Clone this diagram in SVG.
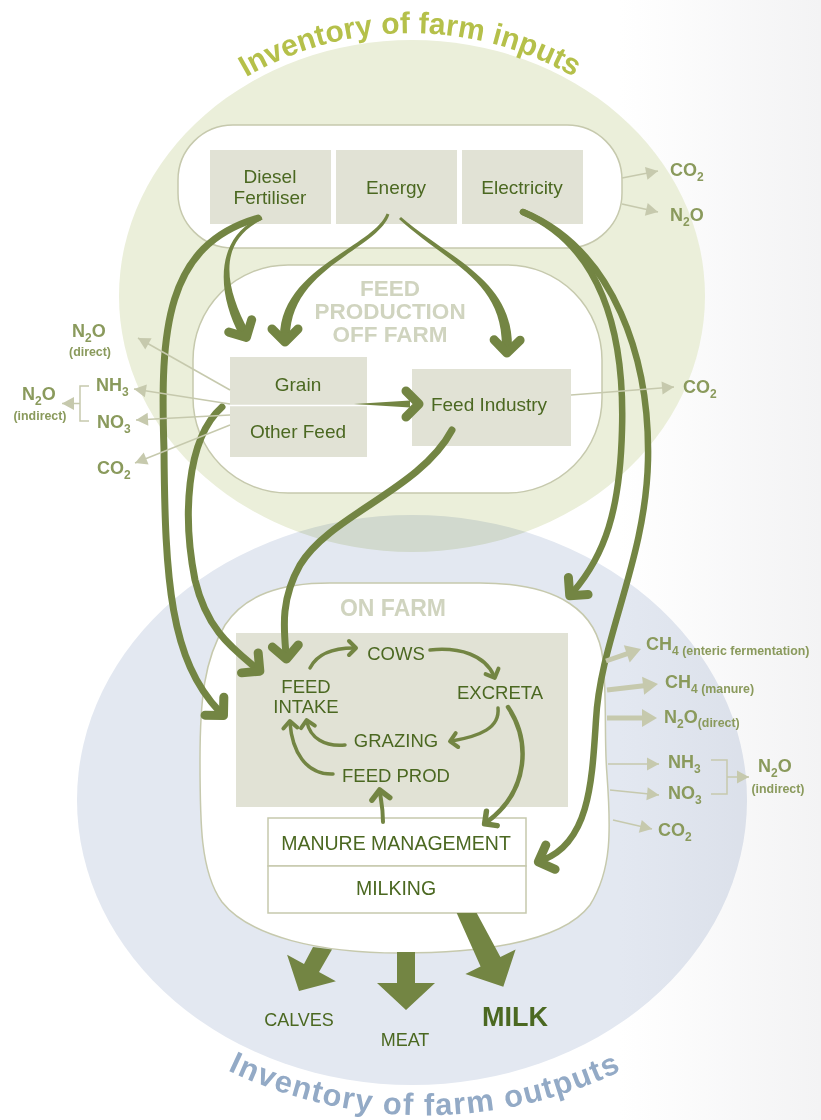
<svg xmlns="http://www.w3.org/2000/svg" width="821" height="1120" viewBox="0 0 821 1120">
<style>
text{font-family:"Liberation Sans",Arial,sans-serif}
.lbl{fill:#4b6821;font-size:19px;text-anchor:middle}
.lbl2{fill:#4b6821;font-size:18.5px;text-anchor:middle}
.em{fill:#8a9a5c;font-size:18px;font-weight:bold}
.sub{font-size:12px}
.ems{font-size:12.4px}
.ttl{fill:#d0d4bf;font-size:22.5px;font-weight:bold;text-anchor:middle}
.box{fill:#e1e2d5}
.blob{fill:#fff;stroke:#c6c9ad;stroke-width:1.5}
.big{fill:none;stroke:#738543;stroke-width:7;stroke-linecap:round;marker-end:url(#hL)}
.tapc{fill:none;stroke:none;marker-end:url(#hL)}
.tap{fill:#738543}
.sm{fill:none;stroke:#738543;stroke-width:3.5;stroke-linecap:round;marker-end:url(#hS)}
.gl{fill:none;stroke:#c6c9ad;stroke-width:1.5;marker-end:url(#tS)}
.gt{fill:none;stroke:#c6c9ad;stroke-width:5;marker-end:url(#tL)}
.out{fill:#738543}
</style>
<defs>
<linearGradient id="bgR" x1="0" x2="1" y1="0" y2="0"><stop offset="0" stop-color="#ffffff"/><stop offset="1" stop-color="#f3f3f4"/></linearGradient>
<marker id="hL" markerUnits="userSpaceOnUse" viewBox="-25 -25 50 50" markerWidth="50" markerHeight="50" refX="-5" refY="0" orient="auto" overflow="visible"><path d="M -13 -13 L 0 0 L -13 13" fill="none" stroke="#738543" stroke-width="9" stroke-linecap="round" stroke-linejoin="round"/></marker>
<marker id="hS" markerUnits="userSpaceOnUse" viewBox="-15 -15 30 30" markerWidth="30" markerHeight="30" refX="-2" refY="0" orient="auto" overflow="visible"><path d="M -7 -7 L 0 0 L -7 7" fill="none" stroke="#738543" stroke-width="4" stroke-linecap="round" stroke-linejoin="round"/></marker>
<marker id="hM" markerUnits="userSpaceOnUse" viewBox="-15 -15 30 30" markerWidth="30" markerHeight="30" refX="-3" refY="0" orient="auto" overflow="visible"><path d="M -9 -9 L 0 0 L -9 9" fill="none" stroke="#738543" stroke-width="5.5" stroke-linecap="round" stroke-linejoin="round"/></marker>
<marker id="tS" markerUnits="userSpaceOnUse" viewBox="-15 -10 20 20" markerWidth="20" markerHeight="20" refX="0" refY="0" orient="auto" overflow="visible"><path d="M -12 -6.5 L 0 0 L -12 6.5 Z" fill="#c6c9ad"/></marker>
<marker id="tL" markerUnits="userSpaceOnUse" viewBox="-20 -12 24 24" markerWidth="24" markerHeight="24" refX="-12" refY="0" orient="auto" overflow="visible"><path d="M -15 -9 L 0 0 L -15 9 Z" fill="#c6c9ad"/></marker>
<path id="arcTop" d="M 230 87 A 328 328 0 0 1 590 87"/>
<path id="arcBot" d="M 190 1050 A 455 455 0 0 0 660 1050"/>
</defs>

<g id="background">
<rect x="0" y="0" width="821" height="1120" fill="#ffffff"/>
<rect x="620" y="0" width="201" height="1120" fill="url(#bgR)"/>
<ellipse id="inputs-area" cx="412" cy="296" rx="293" ry="256" fill="#ebefda"/>
<ellipse id="outputs-area" cx="412" cy="800" rx="335" ry="285" fill="#e3e8f1" style="mix-blend-mode:multiply"/>
<text style="font-size:30px;font-weight:bold;fill:#b5c04a;text-anchor:middle"><textPath href="#arcTop" startOffset="50%">Inventory of farm inputs</textPath></text>
<text style="font-size:31px;font-weight:bold;fill:#93aac6;text-anchor:middle;letter-spacing:1.3px"><textPath href="#arcBot" startOffset="50%">Inventory of farm outputs</textPath></text>
</g>

<g id="inputs-group">
<rect x="178" y="125" width="444" height="123" rx="55" ry="55" class="blob"/>
</g>
<g id="diesel-fertiliser">
<rect x="210" y="150" width="121" height="74" class="box"/>
<text class="lbl" x="270" y="183">Diesel</text>
<text class="lbl" x="270" y="204">Fertiliser</text>
</g>
<g id="energy">
<rect x="336" y="150" width="121" height="74" class="box"/>
<text class="lbl" x="396" y="194">Energy</text>
</g>
<g id="electricity">
<rect x="462" y="150" width="121" height="74" class="box"/>
<text class="lbl" x="522" y="194">Electricity</text>
</g>

<g id="feed-production-off-farm">
<rect x="193" y="265" width="409" height="228" rx="95" ry="95" class="blob"/>
<text class="ttl" x="390" y="296">FEED</text>
<text class="ttl" x="390" y="319">PRODUCTION</text>
<text class="ttl" x="390" y="342">OFF FARM</text>
</g>
<g id="grain-other-feed">
<rect x="230" y="357" width="137" height="100" class="box"/>
<line x1="230" y1="405.5" x2="367" y2="405.5" stroke="#ffffff" stroke-width="1.5"/>
<text class="lbl" x="298" y="391">Grain</text>
<text class="lbl" x="298" y="438">Other Feed</text>
</g>
<g id="feed-industry">
<rect x="412" y="369" width="159" height="77" class="box"/>
<text class="lbl" x="489" y="411">Feed Industry</text>
</g>

<g id="on-farm">
<path class="blob" d="M 330 583 L 480 583 C 560 583 598 612 603 660 C 607 700 604 740 607 775 C 611 830 612 870 590 905 C 560 945 470 953 400 953 C 320 953 250 937 222 902 C 200 872 200 820 200 760 C 200 700 204 660 225 625 C 245 595 280 583 330 583 Z"/>
<text class="ttl" x="393" y="616" style="font-size:23px">ON FARM</text>
<rect x="236" y="633" width="332" height="174" class="box"/>
</g>
<g id="cows"><text class="lbl2" x="396" y="660">COWS</text></g>
<g id="feed-intake"><text class="lbl2" x="306" y="693">FEED</text><text class="lbl2" x="306" y="713">INTAKE</text></g>
<g id="excreta"><text class="lbl2" x="500" y="699">EXCRETA</text></g>
<g id="grazing"><text class="lbl2" x="396" y="747">GRAZING</text></g>
<g id="feed-prod"><text class="lbl2" x="396" y="782">FEED PROD</text></g>
<g id="manure-management">
<rect x="268" y="818" width="258" height="48" fill="#ffffff" stroke="#c6c9ad" stroke-width="1.5"/>
<text class="lbl" x="396" y="850" style="font-size:19.5px">MANURE MANAGEMENT</text>
</g>
<g id="milking">
<rect x="268" y="866" width="258" height="47" fill="#ffffff" stroke="#c6c9ad" stroke-width="1.5"/>
<text class="lbl" x="396" y="895" style="font-size:19.5px">MILKING</text>
</g>

<g id="connectors">
<path class="tap" d="M 262.6 219.4 C 215 242.3 226.4 289.6 248.4 330.6 L 239.6 335.4 C 217.6 294.4 213 237.7 261.4 216.6 Z"/>
<path class="tapc" d="M 262 218 C 214 240 222 292 244 333"/>
<path class="tap" d="M 389.4 214.5 C 378.4 248.8 290 268 290 337 L 280 337 C 280 268 373.6 247.2 386.6 213.5 Z"/>
<path class="tapc" d="M 388 214 C 376 248 285 268 285 337"/>
<path class="tap" d="M 401 216.9 C 451.7 260.1 513 280.1 512 348.1 L 502 347.9 C 503 279.9 448.3 263.9 399 219.1 Z"/>
<path class="tapc" d="M 400 218 C 450 262 508 280 507 348"/>
<path class="tap" d="M 354 404 L 410 400.5 L 410 407.5 Z"/>
<path class="tapc" d="M 354 404 L 414 404"/>
<path class="big" d="M 258 218 C 165 245 160 330 164 450 C 165 580 170 660 220 712"/>
<path class="big" d="M 222 407 C 185 440 183 520 195 580 C 207 630 232 648 256 668"/>
<path class="big" d="M 452 430 C 420 490 330 515 300 565 C 280 600 284 630 286 654"/>
<path class="big" style="stroke-width:6.5px" d="M 523 212 C 600 245 625 330 622 430 C 620 510 605 555 573 592"/>
<path class="big" style="stroke-width:6.5px" d="M 523 212 C 615 250 650 360 648 460 C 646 560 600 640 596 720 C 592 780 590 842 543 860"/>
<path class="sm" d="M 310 668 C 318 652 335 648 354 648"/>
<path class="sm" d="M 430 650 C 460 647 485 655 494 676"/>
<path class="sm" d="M 498 708 C 500 728 480 736 452 741"/>
<path class="sm" d="M 345 745 C 325 747 310 738 307 722"/>
<path class="sm" d="M 333 774 C 305 775 292 750 290 723"/>
<path class="sm" style="stroke-width:4.5px;marker-end:url(#hM)" d="M 508 707 C 530 740 530 790 487 822"/>
<path class="sm" style="stroke-width:4px;marker-end:url(#hM)" d="M 383 822 C 383 808 381 800 380 793"/>
<path class="gl" d="M 622 178 L 658 171"/>
<path class="gl" d="M 622 204 L 658 212"/>
<path class="gl" d="M 571 395 L 674 387"/>
<path class="gl" d="M 230 390 L 138 338"/>
<path class="gl" d="M 230 404 L 134 389"/>
<path class="gl" d="M 230 415 L 136 420"/>
<path class="gl" d="M 230 425 L 135 463"/>
<polyline points="89,386 80,386 80,421 89,421" fill="none" stroke="#c6c9ad" stroke-width="1.5"/>
<path class="gl" d="M 80 403.5 L 62 403.5"/>
<path class="gt" d="M 606 661 L 629.6 652.9"/>
<path class="gt" d="M 607 690 L 646.1 685.4"/>
<path class="gt" d="M 607 718 L 645 718"/>
<path class="gl" d="M 608 764 L 659 764"/>
<path class="gl" d="M 610 790 L 659 795"/>
<path class="gl" d="M 613 820 L 652 829"/>
<polyline points="711,760 727,760 727,794 711,794" fill="none" stroke="#c6c9ad" stroke-width="1.5"/>
<path class="gl" d="M 727 777 L 749 777"/>
<polygon class="out" points="332,949.5 319,972.1 335.9,981.2 299,991 287.1,954.8 304,963.9 313,947"/>
<polygon class="out" points="397,952 415,952 415,983 435,983 406,1010 377,983 397,983"/>
<polygon class="out" points="456.7,913 476.7,913 500.4,956.9 515.6,949.4 503.3,986.7 465.4,974 480.6,966.5"/>
</g>

<g id="emission-labels">
<text class="em" x="670" y="176">CO<tspan class="sub" dy="5">2</tspan></text>
<text class="em" x="670" y="221">N<tspan class="sub" dy="5">2</tspan><tspan dy="-5">O</tspan></text>
<text class="em" x="683" y="393">CO<tspan class="sub" dy="5">2</tspan></text>
<text class="em" x="72" y="337">N<tspan class="sub" dy="5">2</tspan><tspan dy="-5">O</tspan></text>
<text class="em ems" x="90" y="356" style="text-anchor:middle">(direct)</text>
<text class="em" x="22" y="400">N<tspan class="sub" dy="5">2</tspan><tspan dy="-5">O</tspan></text>
<text class="em ems" x="40" y="420" style="text-anchor:middle">(indirect)</text>
<text class="em" x="96" y="391">NH<tspan class="sub" dy="5">3</tspan></text>
<text class="em" x="97" y="428">NO<tspan class="sub" dy="5">3</tspan></text>
<text class="em" x="97" y="474">CO<tspan class="sub" dy="5">2</tspan></text>
<text class="em" x="646" y="650">CH<tspan class="sub" dy="5">4</tspan><tspan class="ems"> (enteric fermentation)</tspan></text>
<text class="em" x="665" y="688">CH<tspan class="sub" dy="5">4</tspan><tspan class="ems"> (manure)</tspan></text>
<text class="em" x="664" y="723">N<tspan class="sub" dy="5">2</tspan><tspan dy="-5">O</tspan><tspan class="ems" dy="4">(direct)</tspan></text>
<text class="em" x="668" y="768">NH<tspan class="sub" dy="5">3</tspan></text>
<text class="em" x="668" y="799">NO<tspan class="sub" dy="5">3</tspan></text>
<text class="em" x="658" y="836">CO<tspan class="sub" dy="5">2</tspan></text>
<text class="em" x="758" y="772">N<tspan class="sub" dy="5">2</tspan><tspan dy="-5">O</tspan></text>
<text class="em ems" x="778" y="793" style="text-anchor:middle">(indirect)</text>
</g>

<g id="outputs">
<text class="lbl" x="299" y="1026" style="font-size:18px">CALVES</text>
<text class="lbl" x="405" y="1046" style="font-size:18px">MEAT</text>
<text class="lbl" x="515" y="1026" style="font-size:27px;font-weight:bold">MILK</text>
</g>
</svg>
